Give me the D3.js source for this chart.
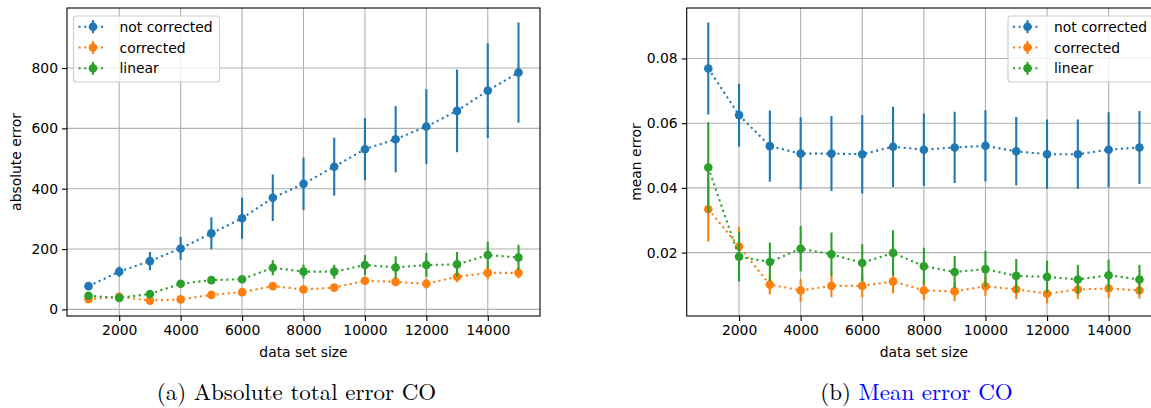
<!DOCTYPE html>
<html>
<head>
<meta charset="utf-8">
<script src="https://cdn.jsdelivr.net/npm/d3@7"></script>
<style>
  html, body { margin: 0; padding: 0; background: #fff; }
  svg { display: block; font-family: "DejaVu Sans", sans-serif; }
  .caption { font-family: "Latin Modern Roman", "CMU Serif", "Liberation Serif", serif; }
</style>
</head>
<body>
<svg id="chart" width="1151" height="408"></svg>
<script>
// Data
const sizes = [1000, 2000, 3000, 4000, 5000, 6000, 7000, 8000, 9000, 10000, 11000, 12000, 13000, 14000, 15000];
const seriesNames = ["not corrected", "corrected", "linear"];
const colors = ["#1f77b4", "#ff7f0e", "#2ca02c"];

// (a) absolute total error
const absNotCorr    = [77, 125, 160, 202, 252, 302, 370, 416, 473, 531, 564, 606, 658, 725, 785];
const absNotCorrErr = [12, 17, 30, 38, 53, 68, 77, 87, 96, 103, 110, 124, 137, 157, 166];
const absCorr       = [34, 42, 29, 33, 48, 57, 77, 66, 72, 95, 91, 85, 108, 121, 121];
const absCorrErr    = [8, 10, 8, 10, 10, 12, 12, 10, 12, 14, 14, 16, 18, 22, 18];
const absLin        = [45, 38, 51, 85, 97, 100, 138, 125, 125, 147, 139, 147, 149, 180, 172];
const absLinErr     = [8, 8, 10, 12, 10, 10, 25, 23, 23, 33, 37, 40, 41, 44, 42];
const absTicks      = [0, 200, 400, 600, 800];

// (b) mean error
const meanNotCorr    = [0.0769, 0.0625, 0.0529, 0.0506, 0.0506, 0.0504, 0.0527, 0.0518, 0.0525, 0.0530, 0.0513, 0.0504, 0.0504, 0.0518, 0.0525];
const meanNotCorrErr = [0.0142, 0.0097, 0.0110, 0.0112, 0.0116, 0.0121, 0.0124, 0.0112, 0.0110, 0.0110, 0.0106, 0.0107, 0.0107, 0.0116, 0.0113];
const meanCorr       = [0.0334, 0.0219, 0.0101, 0.0083, 0.0097, 0.0097, 0.0111, 0.0083, 0.0080, 0.0096, 0.0086, 0.0073, 0.0086, 0.0089, 0.0083];
const meanCorrErr    = [0.0100, 0.0060, 0.0030, 0.0035, 0.0035, 0.0035, 0.0037, 0.0030, 0.0030, 0.0030, 0.0030, 0.0030, 0.0030, 0.0030, 0.0025];
const meanLin        = [0.0463, 0.0187, 0.0171, 0.0212, 0.0195, 0.0168, 0.0199, 0.0158, 0.0140, 0.0149, 0.0128, 0.0125, 0.0117, 0.0130, 0.0117];
const meanLinErr     = [0.0140, 0.0076, 0.0060, 0.0070, 0.0067, 0.0058, 0.0070, 0.0057, 0.0050, 0.0056, 0.0052, 0.0050, 0.0045, 0.0048, 0.0045];
const meanTicks      = [0.02, 0.04, 0.06, 0.08];

const xTicks = [2000, 4000, 6000, 8000, 10000, 12000, 14000];

const svg = d3.select("#chart");
const fontPx = "13.9px";

function drawPanel(opts) {
    const { left, right, top, bottom, yDomain, yTicks, yFormat, yLabel, series, legendSide } = opts;

    const x = d3.scaleLinear().domain([300, 15700]).range([left, right]);
    const y = d3.scaleLinear().domain(yDomain).range([bottom, top]);

    const clipId = "clip-" + legendSide;
    svg.append("clipPath").attr("id", clipId)
        .append("rect").attr("x", left).attr("y", top).attr("width", right - left).attr("height", bottom - top);

    const g = svg.append("g");

    // grid
    g.append("g").selectAll("line").data(xTicks).enter().append("line")
        .attr("x1", d => x(d)).attr("x2", d => x(d)).attr("y1", top).attr("y2", bottom)
        .attr("stroke", "#b0b0b0").attr("stroke-width", 1.1);
    g.append("g").selectAll("line").data(yTicks).enter().append("line")
        .attr("x1", left).attr("x2", right).attr("y1", d => y(d)).attr("y2", d => y(d))
        .attr("stroke", "#b0b0b0").attr("stroke-width", 1.1);

    // axes
    const xAxis = g.append("g").attr("transform", `translate(0,${bottom})`)
        .call(d3.axisBottom(x).tickValues(xTicks).tickSize(5).tickPadding(4).tickFormat(d3.format("d")));
    const yAxis = g.append("g").attr("transform", `translate(${left},0)`)
        .call(d3.axisLeft(y).tickValues(yTicks).tickSize(5).tickPadding(4).tickFormat(yFormat));
    [xAxis, yAxis].forEach(ax => {
        ax.select(".domain").remove();
        ax.selectAll(".tick line").attr("stroke", "#000").attr("stroke-width", 1.1);
        ax.selectAll(".tick text").attr("fill", "#000").style("font-size", fontPx).style("font-family", "DejaVu Sans");
    });

    // data
    const plot = g.append("g").attr("clip-path", `url(#${clipId})`);
    const line = d3.line().x(d => x(d.size)).y(d => y(d.value));

    series.forEach((s, si) => {
        const pts = sizes.map((size, i) => ({ size, value: s.values[i], err: s.errs[i] }));
        const sg = plot.append("g");
        sg.selectAll("line.err").data(pts).enter().append("line").attr("class", "err")
            .attr("x1", d => x(d.size)).attr("x2", d => x(d.size))
            .attr("y1", d => y(d.value - d.err)).attr("y2", d => y(d.value + d.err))
            .attr("stroke", colors[si]).attr("stroke-width", 2.1);
        sg.append("path").datum(pts).attr("d", line)
            .attr("fill", "none").attr("stroke", colors[si]).attr("stroke-width", 2.1)
            .attr("stroke-dasharray", "2.1,3.5");
        sg.selectAll("circle").data(pts).enter().append("circle")
            .attr("cx", d => x(d.size)).attr("cy", d => y(d.value)).attr("r", 4.3)
            .attr("fill", colors[si]);
    });

    // spines
    g.append("rect").attr("x", left).attr("y", top).attr("width", right - left).attr("height", bottom - top)
        .attr("fill", "none").attr("stroke", "#000").attr("stroke-width", 1.1);

    // axis labels
    g.append("text").attr("x", (left + right) / 2).attr("y", bottom + 41)
        .attr("text-anchor", "middle").style("font-size", fontPx).text("data set size");
    g.append("text").attr("transform", `translate(${left - 46},${(top + bottom) / 2}) rotate(-90)`)
        .attr("text-anchor", "middle").style("font-size", fontPx).text(yLabel);

    // legend
    const legW = 146, legH = 66;
    const legX = legendSide === "left" ? left + 6.5 : right - 7 - legW;
    const legY = top + 8;
    const leg = g.append("g").attr("transform", `translate(${legX},${legY})`);
    leg.append("rect").attr("width", legW).attr("height", legH).attr("rx", 3)
        .attr("fill", "#fff").attr("fill-opacity", 0.8).attr("stroke", "#cccccc").attr("stroke-width", 1.1);
    seriesNames.forEach((name, i) => {
        const row = leg.append("g").attr("transform", `translate(0,${10.7 + i * 20.8})`);
        row.append("line").attr("x1", 5).attr("x2", 33).attr("y1", 0).attr("y2", 0)
            .attr("stroke", colors[i]).attr("stroke-width", 2.1).attr("stroke-dasharray", "2.1,3.5");
        row.append("line").attr("x1", 19.5).attr("x2", 19.5).attr("y1", -6.5).attr("y2", 6.5)
            .attr("stroke", colors[i]).attr("stroke-width", 2.1);
        row.append("circle").attr("cx", 19.5).attr("cy", 0).attr("r", 4.3).attr("fill", colors[i]);
        row.append("text").attr("x", 46).attr("y", 5).style("font-size", fontPx).attr("fill", "#000").text(name);
    });
}

drawPanel({
    left: 67, right: 540, top: 8, bottom: 316,
    yDomain: [-22, 999], yTicks: absTicks, yFormat: d3.format("d"),
    yLabel: "absolute error", legendSide: "left",
    series: [
        { values: absNotCorr, errs: absNotCorrErr },
        { values: absCorr, errs: absCorrErr },
        { values: absLin, errs: absLinErr }
    ]
});

drawPanel({
    left: 686.7, right: 1161, top: 8, bottom: 316,
    yDomain: [0.0004, 0.0956], yTicks: meanTicks, yFormat: d3.format(".2f"),
    yLabel: "mean error", legendSide: "right",
    series: [
        { values: meanNotCorr, errs: meanNotCorrErr },
        { values: meanCorr, errs: meanCorrErr },
        { values: meanLin, errs: meanLinErr }
    ]
});

// captions
svg.append("text").attr("class", "caption").attr("x", 296.5).attr("y", 400)
    .attr("text-anchor", "middle").style("font-size", "23px").attr("fill", "#000")
    .text("(a) Absolute total error CO");
const capB = svg.append("text").attr("class", "caption").attr("x", 916.5).attr("y", 400)
    .attr("text-anchor", "middle").style("font-size", "23px").attr("fill", "#000");
capB.append("tspan").text("(b) ");
capB.append("tspan").attr("fill", "#0000ff").text("Mean error CO");
</script>
</body>
</html>
